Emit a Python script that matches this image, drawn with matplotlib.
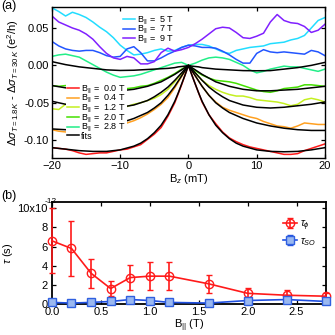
import numpy as np
import matplotlib
matplotlib.use("Agg")
import matplotlib.pyplot as plt

plt.rcParams['font.family'] = ['Liberation Sans', 'DejaVu Sans']
plt.rcParams['mathtext.fontset'] = 'custom'
plt.rcParams['mathtext.rm'] = 'Liberation Sans'
plt.rcParams['mathtext.it'] = 'Liberation Sans:italic'

# ---- panel (a): magnetoconductance vs Bz ----
bz = np.arange(-20, 21, 1.0)
d00 = [-0.110, -0.111, -0.112, -0.114, -0.117, -0.119, -0.118, -0.117, -0.117, -0.115,
       -0.113, -0.112, -0.109, -0.106, -0.099, -0.092, -0.083, -0.068, -0.050, -0.026,
       0.0,
       -0.025, -0.049, -0.066, -0.078, -0.089, -0.097, -0.102, -0.106, -0.109, -0.111,
       -0.113, -0.115, -0.117, -0.119, -0.119, -0.118, -0.114, -0.111, -0.108, -0.105]
d04 = [-0.086, -0.088, -0.089, -0.089, -0.088, -0.087, -0.086, -0.085, -0.083, -0.081,
       -0.079, -0.077, -0.074, -0.070, -0.065, -0.059, -0.052, -0.043, -0.030, -0.015,
       0.0,
       -0.014, -0.028, -0.040, -0.049, -0.056, -0.060, -0.063, -0.066, -0.069, -0.071,
       -0.075, -0.078, -0.081, -0.082, -0.084, -0.081, -0.077, -0.078, -0.079, -0.079]
d12 = [-0.058, -0.059, -0.052, -0.052, -0.053, -0.054, -0.055, -0.056, -0.056, -0.056,
       -0.056, -0.055, -0.052, -0.050, -0.047, -0.044, -0.039, -0.032, -0.022, -0.011,
       0.0,
       -0.010, -0.020, -0.027, -0.032, -0.036, -0.039, -0.041, -0.041, -0.043, -0.046,
       -0.047, -0.048, -0.049, -0.051, -0.054, -0.052, -0.046, -0.044, -0.046, -0.049]
d20 = [-0.027, -0.028, -0.027, -0.028, -0.029, -0.030, -0.031, -0.032, -0.032, -0.031,
       -0.030, -0.031, -0.030, -0.028, -0.027, -0.024, -0.020, -0.016, -0.011, -0.005,
       0.0,
       -0.007, -0.013, -0.017, -0.020, -0.021, -0.022, -0.024, -0.027, -0.030, -0.033,
       -0.035, -0.036, -0.034, -0.031, -0.030, -0.029, -0.026, -0.026, -0.027, -0.028]
d28 = [0.012, 0.014, 0.015, 0.013, 0.011, 0.006, 0.001, -0.004, -0.009, -0.013,
       -0.016, -0.015, -0.014, -0.012, -0.009, -0.006, -0.003, 0.000, 0.003, 0.004,
       0.0,
       0.003, 0.007, 0.010, 0.011, 0.010, 0.008, 0.004, 0.000, -0.006, -0.010,
       -0.008, -0.005, -0.003, -0.001, -0.002, -0.002, -0.004, -0.006, -0.008, -0.005]
d5 = [0.077, 0.072, 0.066, 0.071, 0.068, 0.064, 0.058, 0.051, 0.045, 0.037,
      0.027, 0.020, 0.014, 0.015, 0.017, 0.020, 0.022, 0.019, 0.020, 0.024,
      0.027,
      0.028, 0.028, 0.026, 0.022, 0.018, 0.016, 0.020, 0.022, 0.024, 0.025,
      0.026, 0.029, 0.030, 0.031, 0.034, 0.036, 0.040, 0.050, 0.060, 0.064]
d7 = [0.032, 0.026, 0.022, 0.020, 0.019, 0.020, 0.020, 0.017, 0.013, 0.011,
      0.012, 0.022, 0.025, 0.017, 0.006, 0.006, 0.010, 0.015, 0.019, 0.024,
      0.027,
      0.026, 0.024, 0.024, 0.023, 0.019, 0.014, 0.008, 0.003, 0.003, 0.016,
      0.021, 0.018, 0.017, 0.018, 0.017, 0.016, 0.015, 0.020, 0.018, 0.013]
d9 = [0.066, 0.058, 0.054, 0.050, 0.047, 0.042, 0.035, 0.025, 0.016, 0.010,
      0.008, 0.012, 0.010, 0.002, 0.002, 0.005, 0.017, 0.023, 0.019, 0.021,
      0.024,
      0.029, 0.035, 0.042, 0.049, 0.051, 0.050, 0.044, 0.037, 0.036, 0.039,
      0.043, 0.058, 0.068, 0.060, 0.057, 0.056, 0.052, 0.044, 0.047, 0.055]

bz_fit = [-20, -18, -16, -14, -12, -10, -8, -7, -6, -5, -4, -3, -2, -1.5, -1, -0.5,
          0, 0.5, 1, 1.5, 2, 3, 4, 5, 6, 7, 8, 10, 12, 14, 16, 18, 20]
f00 = [-0.110, -0.112, -0.114, -0.115, -0.115, -0.113, -0.108, -0.104, -0.098, -0.090,
       -0.080, -0.066, -0.048, -0.037, -0.025, -0.013, 0.0, -0.013, -0.025, -0.037,
       -0.048, -0.066, -0.080, -0.090, -0.098, -0.104, -0.108, -0.113, -0.115, -0.1155,
       -0.115, -0.113, -0.110]
f04 = [-0.085, -0.086, -0.085, -0.084, -0.081, -0.077, -0.071, -0.067, -0.063, -0.057,
       -0.050, -0.040, -0.028, -0.021, -0.014, -0.007, 0.0, -0.007, -0.014, -0.021,
       -0.028, -0.040, -0.050, -0.057, -0.063, -0.067, -0.071, -0.077, -0.081, -0.084,
       -0.086, -0.087, -0.087]
f12 = [-0.048, -0.052, -0.054, -0.056, -0.057, -0.056, -0.053, -0.050, -0.047, -0.042,
       -0.036, -0.029, -0.020, -0.015, -0.010, -0.005, 0.0, -0.005, -0.010, -0.015,
       -0.020, -0.029, -0.036, -0.042, -0.047, -0.050, -0.053, -0.056, -0.057, -0.056,
       -0.054, -0.052, -0.049]
f20 = [-0.027, -0.030, -0.032, -0.033, -0.034, -0.034, -0.032, -0.030, -0.028, -0.025,
       -0.022, -0.017, -0.012, -0.009, -0.006, -0.003, 0.0, -0.003, -0.006, -0.009,
       -0.012, -0.017, -0.022, -0.025, -0.028, -0.030, -0.032, -0.034, -0.034, -0.033,
       -0.032, -0.030, -0.028]
f28 = [0.005, 0.001, -0.002, -0.004, -0.006, -0.0068, -0.0065, -0.006, -0.0055, -0.005,
       -0.0045, -0.004, -0.003, -0.002, -0.0015, -0.001, 0.0, -0.001, -0.0015, -0.002,
       -0.003, -0.004, -0.005, -0.0055, -0.006, -0.0065, -0.007, -0.0072, -0.007, -0.005,
       -0.003, 0.000, 0.004]

# ---- panel (b): times vs B_parallel ----
bpar = [0.0, 0.2, 0.4, 0.6, 0.8, 1.0, 1.2, 1.6, 2.0, 2.4, 2.8]
tau_phi = [6.6, 5.8, 3.2, 1.6, 2.75, 2.9, 2.9, 2.1, 1.1, 0.9, 0.8]
tau_phi_err = [3.4, 2.9, 1.5, 0.8, 1.35, 1.5, 1.5, 0.95, 0.6, 0.5, 0.35]
tau_so = [0.15, 0.08, 0.15, 0.25, 0.45, 0.35, 0.15, 0.08, 0.35, 0.45, 0.25]
tau_so_err = [0.1, 0.08, 0.1, 0.15, 0.15, 0.15, 0.1, 0.08, 0.15, 0.15, 0.15]

fig = plt.figure(figsize=(3.35, 3.35), dpi=100)
ax1 = fig.add_axes([0.155, 0.528, 0.815, 0.451])
ax2 = fig.add_axes([0.155, 0.093, 0.818, 0.305])

lw = 1.1
l5, = ax1.plot(bz, d5, color='#22ddff', lw=lw, label=r'B$_{||}$ =  5 T')
l7, = ax1.plot(bz, d7, color='#2255ff', lw=lw, label=r'B$_{||}$ =  7 T')
l9, = ax1.plot(bz, d9, color='#8020ff', lw=lw, label=r'B$_{||}$ =  9 T')
l28, = ax1.plot(bz, d28, color='#22ee88', lw=lw, label=r'B$_{||}$ =  2.8 T')
l20, = ax1.plot(bz, d20, color='#44e000', lw=lw, label=r'B$_{||}$ =  2.0 T')
l12, = ax1.plot(bz, d12, color='#c4f020', lw=lw, label=r'B$_{||}$ =  1.2 T')
l04, = ax1.plot(bz, d04, color='#ffa020', lw=lw, label=r'B$_{||}$ =  0.4 T')
l00, = ax1.plot(bz, d00, color='#ff1a1a', lw=lw, label=r'B$_{||}$ =  0.0 T')
for f in [f00, f04, f12, f20, f28]:
    lf, = ax1.plot(bz_fit, f, color='black', lw=lw, label='fits')

ax1.set_xlim(-20, 20)
ax1.set_ylim(-0.124, 0.078)
ax1.set_xticks([-20, -10, 0, 10, 20])
ax1.set_yticks([-0.10, -0.05, 0.00, 0.05])
ax1.set_yticklabels(['-0.10', '-0.05', '0.00', '0.05'])
ax1.set_xlabel(r'B$_z$ (mT)', fontsize=8, labelpad=1)
ax1.set_ylabel(r'$\Delta\sigma_{T=1.8\,K}$ - $\Delta\sigma_{T=30\,K}$ (e$^2$/h)',
               fontsize=8, labelpad=2)

leg1 = ax1.legend(handles=[l5, l7, l9], loc='upper left', bbox_to_anchor=(0.24, 0.985),
                  fontsize=6.5, frameon=False, handlelength=1.3, handletextpad=0.3,
                  labelspacing=-0.28, borderpad=0.1)
ax1.add_artist(leg1)
ax1.legend(handles=[l00, l04, l12, l20, l28, lf], loc='upper left',
           bbox_to_anchor=(0.045, 0.51), fontsize=6.5, frameon=True, framealpha=1,
           facecolor='white', edgecolor='none', fancybox=False, handlelength=1.3,
           handletextpad=0.3, labelspacing=-0.28, borderpad=0.1, borderaxespad=0.2)

ax2.errorbar(bpar, tau_phi, yerr=tau_phi_err, color='#ff1a1a', marker='o', ms=6,
             mfc='none', mew=1.0, lw=1.2, capsize=2.5, elinewidth=1.2, label=r'$\tau_\phi$',
             clip_on=False, zorder=3)
ax2.errorbar(bpar, tau_so, yerr=tau_so_err, color='#2050e0', marker='s', ms=6,
             mfc='#9ab8f0', mec='#3060e0', mew=1.0, lw=1.2, capsize=2, elinewidth=1.0,
             label=r'$\tau_{SO}$', clip_on=False, zorder=4)
ax2.set_xlim(0, 2.8)
ax2.set_ylim(0, 10.7)
ax2.set_xticks([0.0, 0.5, 1.0, 1.5, 2.0, 2.5])
ax2.set_xticklabels(['0.0', '0.5', '1.0', '1.5', '2.0', '2.5'])
ax2.set_yticks([0, 2, 4, 6, 8, 10])
ax2.set_yticklabels(['0', '2', '4', '6', '8', '10x10'])
ax2.text(-0.025, 10.3, '-12', fontsize=6, ha='left', va='bottom',
         transform=ax2.get_yaxis_transform())
ax2.set_xlabel(r'B$_{||}$ (T)', fontsize=8, labelpad=1)
ax2.set_ylabel(r'$\tau$ (s)', fontsize=8, labelpad=2)
ax2.legend(loc='upper right', bbox_to_anchor=(1.0, 0.93), fontsize=7.5, frameon=False,
           handlelength=1.4, handletextpad=0.3, labelspacing=0.3)

for ax in [ax1, ax2]:
    ax.tick_params(direction='in', top=True, right=True, labelsize=8, length=3, width=0.9,
                   pad=2)
    for s in ax.spines.values():
        s.set_linewidth(1.0)
for s in ax2.spines.values():
    s.set_linewidth(1.3)
ax2.tick_params(axis='y', pad=3)

fig.text(0.005, 0.972, '(a)', fontsize=9)
fig.text(0.005, 0.405, '(b)', fontsize=9)

fig.savefig('out.png', dpi=100)
